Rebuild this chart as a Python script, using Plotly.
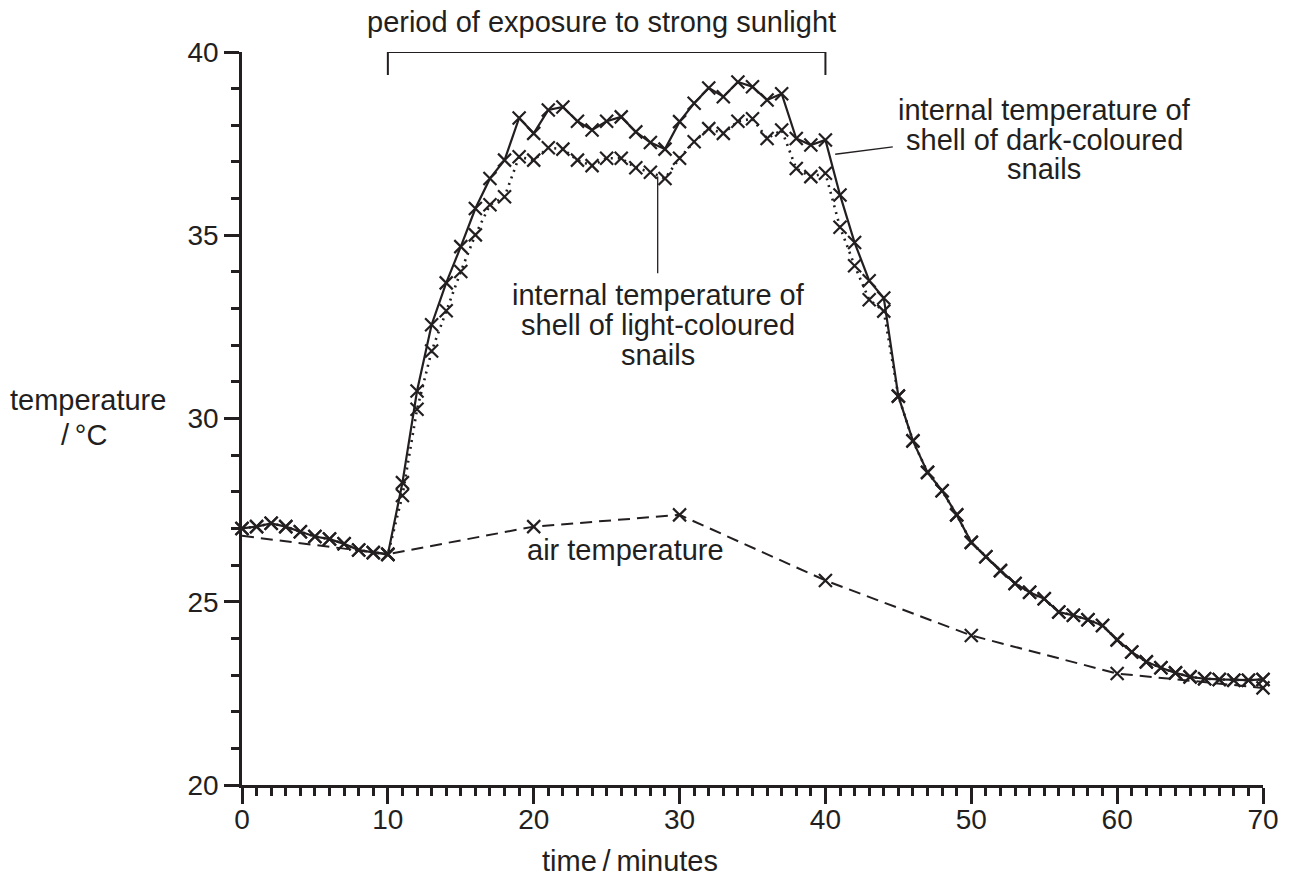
import plotly.graph_objects as go

# ---- data ----
minutes = list(range(0, 71))
dark_snails = [27.0, 27.05, 27.14, 27.05, 26.91, 26.78, 26.71, 26.58, 26.41, 26.34,
               26.29, 28.25, 30.75, 32.56, 33.7, 34.69, 35.73, 36.55, 37.05, 38.2,
               37.78, 38.42, 38.5, 38.11, 37.87, 38.11, 38.23, 37.82, 37.53, 37.35,
               38.1, 38.6, 39.02, 38.78, 39.18, 39.05, 38.69, 38.86, 37.64, 37.46,
               37.6, 36.1, 34.8, 33.76, 33.29, 30.61, 29.39, 28.53, 28.03, 27.37,
               26.62, 26.23, 25.85, 25.5, 25.26, 25.08, 24.72, 24.63, 24.51, 24.35,
               23.96, 23.63, 23.36, 23.2, 23.06, 22.95, 22.9, 22.88, 22.86, 22.86,
               22.88]
light_snails = [27.0, 27.05, 27.14, 27.05, 26.91, 26.78, 26.71, 26.58, 26.41, 26.34,
                26.29, 27.9, 30.25, 31.84, 32.94, 34.01, 35.01, 35.83, 36.05, 37.14,
                37.05, 37.39, 37.35, 37.05, 36.9, 37.1, 37.1, 36.84, 36.72, 36.55,
                37.1, 37.55, 37.91, 37.78, 38.11, 38.18, 37.64, 37.87, 36.82, 36.6,
                36.69, 35.22, 34.17, 33.24, 32.93, 30.61, 29.39, 28.53, 28.03, 27.37,
                26.62, 26.23, 25.85, 25.5, 25.26, 25.08, 24.72, 24.63, 24.51, 24.35,
                23.96, 23.63, 23.36, 23.2, 23.06, 22.95, 22.9, 22.88, 22.86, 22.86,
                22.88]
air_minutes = [0, 10, 20, 30, 40, 50, 60, 70]
air_temp = [26.8, 26.3, 27.05, 27.37, 25.58, 24.08, 23.04, 22.65]

INK = "#231f20"
FONT = "Arial, Liberation Sans, Helvetica, sans-serif"
FS = 29
TFS = 28
XMARK = dict(symbol="x-thin", size=13, color=INK, line=dict(color=INK, width=2.2))

fig = go.Figure()

# air temperature: dashed line, crosses at the measured points after the start
fig.add_trace(go.Scatter(
    x=air_minutes, y=air_temp, mode="lines",
    line=dict(color=INK, width=2, dash="12px,7px"),
    cliponaxis=False, showlegend=False))
fig.add_trace(go.Scatter(
    x=air_minutes[1:], y=air_temp[1:], mode="markers",
    marker=XMARK, cliponaxis=False, showlegend=False))

fig.add_trace(go.Scatter(
    x=minutes, y=light_snails, mode="lines",
    line=dict(color=INK, width=2.6, dash="2px,5px"),
    cliponaxis=False, showlegend=False))
fig.add_trace(go.Scatter(
    x=minutes, y=light_snails, mode="markers",
    marker=XMARK, cliponaxis=False, showlegend=False))

fig.add_trace(go.Scatter(
    x=minutes, y=dark_snails, mode="lines+markers",
    line=dict(color=INK, width=2.2), marker=XMARK,
    cliponaxis=False, showlegend=False))

# bracket for sunlight period
fig.add_shape(type="path", path="M 10,39.37 L 10,40 L 40,40 L 40,39.37",
              xref="x", yref="y", line=dict(color=INK, width=2))
# leader lines
fig.add_shape(type="line", x0=40.67, y0=37.21, x1=44.62, y1=37.41,
              xref="x", yref="y", line=dict(color=INK, width=1.3))
fig.add_shape(type="line", x0=28.5, y0=36.6, x1=28.5, y1=33.96,
              xref="x", yref="y", line=dict(color=INK, width=1.3))

def label(text, x, y, ref="x", size=FS):
    fig.add_annotation(x=x, y=y, xref="x" if ref == "x" else "paper",
                       yref="y" if ref == "x" else "paper",
                       text=text, showarrow=False,
                       xanchor="center", yanchor="middle",
                       font=dict(family=FONT, size=size, color=INK))

label("period of exposure to strong sunlight", 0.3523, 1.041, ref="paper")
label("internal temperature of", 55.0, 38.43)
label("shell of dark-coloured", 55.0, 37.59)
label("snails", 55.0, 36.80)
label("internal temperature of", 28.54, 33.36)
label("shell of light-coloured", 28.54, 32.54)
label("snails", 28.54, 31.73)
label("air temperature", 26.27, 26.4)
label("temperature", -0.1513, 0.525, ref="paper")
label("/\u2009°C", -0.1548, 0.4775, ref="paper")
label("time\u2009/\u2009minutes", 0.38, -0.104, ref="paper")

fig.update_xaxes(range=[0, 70], showgrid=False, zeroline=False,
                 showline=True, linecolor=INK, linewidth=2.5,
                 ticks="outside", tickmode="linear", tick0=0, dtick=10,
                 ticklen=16, tickwidth=2.5, tickcolor=INK, ticklabelstandoff=-8,
                 tickfont=dict(family=FONT, size=TFS, color=INK),
                 minor=dict(ticks="outside", dtick=1, tick0=0, ticklen=8,
                            tickwidth=2.5, tickcolor=INK))
fig.update_yaxes(range=[20, 40], showgrid=False, zeroline=False,
                 showline=True, linecolor=INK, linewidth=2.5,
                 ticks="outside", tickmode="linear", tick0=20, dtick=5,
                 ticklen=15, tickwidth=2.5, tickcolor=INK,
                 tickfont=dict(family=FONT, size=TFS, color=INK),
                 minor=dict(ticks="outside", dtick=1, tick0=20, ticklen=8,
                            tickwidth=2.5, tickcolor=INK))

fig.update_layout(width=1298, height=883,
                  margin=dict(l=242, r=35, t=52, b=98),
                  paper_bgcolor="white", plot_bgcolor="white",
                  font=dict(family=FONT, color=INK))

fig.write_html("out.html")
